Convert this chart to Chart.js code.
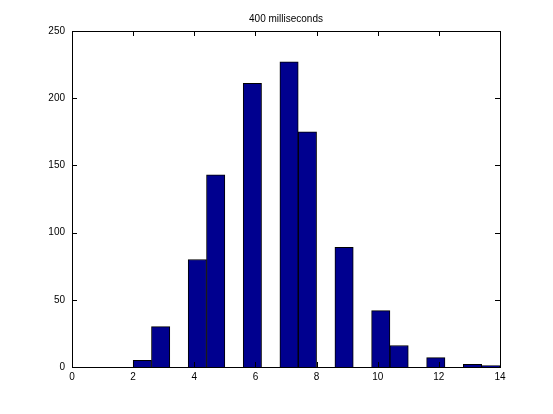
<!DOCTYPE html>
<html>
<head>
<meta charset="utf-8">
<script src="https://cdn.jsdelivr.net/npm/chart.js@4/dist/chart.umd.min.js"></script>
<style>
  html, body { margin: 0; padding: 0; background: #fff; }
  canvas { display: block; }
</style>
</head>
<body>
<canvas id="chart" width="553" height="414"></canvas>
<script>
// histogram bins (width 0.6, from 2 to 14)
const binCenters = [2.3, 2.9, 3.5, 4.1, 4.7, 5.3, 5.9, 6.5, 7.1, 7.7,
                    8.3, 8.9, 9.5, 10.1, 10.7, 11.3, 11.9, 12.5, 13.1, 13.7];
const counts = [5, 30, 0, 80, 143, 0, 211, 0, 227, 175,
                0, 89, 0, 42, 16, 0, 7, 0, 2, 1];
const xTicks = [0, 2, 4, 6, 8, 10, 12, 14];
const yTicks = [0, 50, 100, 150, 200, 250];
const titleText = "400 milliseconds";

const fontFamily = "'Liberation Sans', Arial, sans-serif";

// matlab style box with inward tick marks, title centred over the axes
const boxPlugin = {
  id: "box",
  afterDraw(chart) {
    const { ctx, chartArea: a, scales } = chart;
    const len = 5;
    ctx.save();
    ctx.strokeStyle = "#000";
    ctx.lineWidth = 1;
    ctx.beginPath();
    scales.x.ticks.forEach(t => {
      const px = Math.round(scales.x.getPixelForValue(t.value)) + 0.5;
      ctx.moveTo(px, a.bottom); ctx.lineTo(px, a.bottom - len);
      ctx.moveTo(px, a.top); ctx.lineTo(px, a.top + len);
    });
    scales.y.ticks.forEach(t => {
      const py = Math.round(scales.y.getPixelForValue(t.value)) + 0.5;
      ctx.moveTo(a.left, py); ctx.lineTo(a.left + len, py);
      ctx.moveTo(a.right, py); ctx.lineTo(a.right - len, py);
    });
    ctx.stroke();
    ctx.strokeRect(Math.round(a.left) + 0.5, Math.round(a.top) + 0.5,
                   Math.round(a.right - a.left), Math.round(a.bottom - a.top));

    ctx.fillStyle = "#000";
    ctx.font = "10px " + fontFamily;
    ctx.textAlign = "center";
    ctx.textBaseline = "middle";
    ctx.fillText(titleText, (a.left + a.right) / 2, a.top - 12);
    ctx.restore();
  }
};

new Chart(document.getElementById("chart"), {
  type: "bar",
  data: {
    datasets: [{
      data: binCenters.map((x, i) => ({ x: x, y: counts[i] })),
      backgroundColor: "#00008f",
      borderColor: "#000",
      borderWidth: 1,
      barPercentage: 1,
      categoryPercentage: 1
    }]
  },
  options: {
    responsive: false,
    animation: false,
    layout: { padding: { left: 0, right: 53, top: 31, bottom: 0 } },
    plugins: {
      legend: { display: false },
      tooltip: { enabled: false },
      title: { display: false }
    },
    scales: {
      x: {
        type: "linear",
        offset: false,
        min: 0,
        max: 14,
        afterFit: s => { s.height = 47; },
        afterBuildTicks: s => { s.ticks = xTicks.map(v => ({ value: v })); },
        grid: { display: false, drawTicks: false, offset: false },
        border: { display: false },
        ticks: { color: "#000", padding: 4, maxRotation: 0,
                 font: { family: fontFamily, size: 10 } }
      },
      y: {
        min: 0,
        max: 250,
        afterFit: s => { s.width = 72; },
        afterBuildTicks: s => { s.ticks = yTicks.map(v => ({ value: v })); },
        grid: { display: false, drawTicks: false },
        border: { display: false },
        ticks: { color: "#000", padding: 7,
                 font: { family: fontFamily, size: 10 } }
      }
    }
  },
  plugins: [boxPlugin]
});
</script>
</body>
</html>
